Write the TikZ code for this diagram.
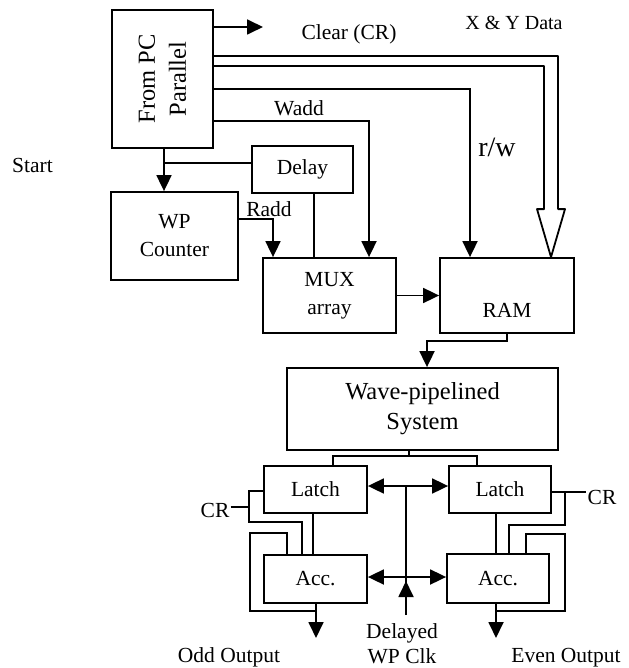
\documentclass[tikz,border=0pt]{standalone}
\usepackage{fontspec}
\setmainfont{Liberation Serif}
\usetikzlibrary{arrows.meta,calc}
\begin{document}
\begin{tikzpicture}[x=1pt,y=-1pt,
  box/.style={draw,line width=1.8pt,inner sep=0pt},
  wire/.style={line width=1.8pt},
  arr/.style={-{Triangle[length=16pt,width=15pt]}},
  darr/.style={{Triangle[length=16pt,width=15pt]}-{Triangle[length=16pt,width=15pt]}},
  txt/.style={font=\fontsize{21.5}{28}\selectfont,inner sep=1pt,align=center}]
\useasboundingbox (0,0) rectangle (628,668);
% boxes
\node[box,minimum width=101pt,minimum height=138pt] (pc) at (162.5,79) {};
\node[txt,rotate=90,font=\fontsize{24.5}{31}\selectfont] (pctxt) at (pc.center) {From PC\\Parallel};
\node[box,txt,minimum width=101pt,minimum height=47pt] (delay) at (302.5,169.5) {Delay};
\node[box,txt,minimum width=127pt,minimum height=88pt] (wp) at (174.5,236) {WP\\Counter};
\node[box,txt,minimum width=133pt,minimum height=75pt] (mux) at (329.5,295.5) {MUX\\array};
\node[box,minimum width=134pt,minimum height=75pt] (ram) at (507,295.5) {};
\node[txt] (ramtxt) at ($(ram.center)+(0,14.5)$) {RAM};
\node[box,txt,font=\fontsize{24.5}{30}\selectfont,minimum width=271pt,minimum height=82pt] (wave) at (422.5,409) {Wave-pipelined\\System};
\node[box,txt,minimum width=103pt,minimum height=47pt] (latchL) at (315.5,489.5) {Latch};
\node[box,txt,minimum width=102pt,minimum height=47pt] (latchR) at (500,489.5) {Latch};
\node[box,txt,minimum width=103pt,minimum height=48pt] (accL) at (315.5,579) {Acc.};
\node[box,txt,minimum width=102pt,minimum height=49pt] (accR) at (498,578.5) {Acc.};
% labels
\node[txt] (clear) at (349,34) {Clear (CR)};
\node[txt,font=\fontsize{20}{24}\selectfont] (xy) at (514,23) {X \& Y Data};
\node[txt] (wadd) at (299,108) {Wadd};
\node[txt,font=\fontsize{28}{32}\selectfont] (rwl) at (497,147) {r/w};
\node[txt] (radd) at (269,209) {Radd};
\node[txt] (start) at (32.5,165) {Start};
\node[txt] (crl) at (215,510) {CR};
\node[txt] (crr) at (602,497) {CR};
\node[txt] (oddl) at (229,657) {Odd Output};
\node[txt] (evenl) at (566,658) {Even Output};
\node[txt,font=\fontsize{21.5}{25}\selectfont] (clkl) at (402,644) {Delayed\\WP Clk};
% coordinates
\coordinate (clr) at (263,27);
\coordinate (bo) at (558,56);
\coordinate (bi) at (544,66);
\coordinate (btip) at ($(ram.north)+(44,0)$);
\coordinate (rw) at (470,89);
\coordinate (wa) at (369,121);
\coordinate (xs) at (164,163);
\coordinate (ra) at (273,219);
\coordinate (xd) at (314,0);
\coordinate (rwv) at (427,341);
\coordinate (wj) at (409,456);
\coordinate (wl) at (333,456);
\coordinate (wr) at (477,456);
\coordinate (ck) at (406,615);
\coordinate (ckl) at (406,486);
\coordinate (cka) at (406,577);
\coordinate (xl) at (313,0);
\coordinate (xr) at (496,0);
\coordinate (cjl) at (249,507);
\coordinate (cl1) at (249,491);
\coordinate (cl2) at (249,522);
\coordinate (cl3) at (302,522);
\coordinate (fl1) at (316,611);
\coordinate (fl2) at (250,611);
\coordinate (fl3) at (250,533);
\coordinate (fl4) at (287,533);
\coordinate (odd) at (316,638);
\coordinate (cr1) at (565,492);
\coordinate (cr2) at (565,525);
\coordinate (cr3) at (509,525);
\coordinate (fr1) at (496,611);
\coordinate (fr2) at (565,611);
\coordinate (fr3) at (565,534);
\coordinate (fr4) at (526,534);
\coordinate (even) at (496,638);
% top connectors
\draw[wire,arr] (pc.east |- clr) -- (clr);
\draw[wire,line join=round] (pc.east |- bo) -- (bo) -- ($(btip)+(7,-48)$) -- ($(btip)+(14,-48)$) -- (btip)
   -- ($(btip)+(-14,-48)$) -- ($(btip)+(-7,-48)$) -- (bi) -- (pc.east |- bi);
\draw[wire,arr] (pc.east |- rw) -- (rw) -- (rw |- ram.north);
\draw[wire,arr] (pc.east |- wa) -- (wa) -- (wa |- mux.north);
\draw[wire,arr] (pc.south -| xs) -- (wp.north -| xs);
\draw[wire] (xs) -- (xs -| delay.west);
\draw[wire,arr] (wp.east |- ra) -- (ra) -- (ra |- mux.north);
\draw[wire] (delay.south -| xd) -- (mux.north -| xd);
\draw[wire,arr] (mux.east) -- (ram.west);
\draw[wire,arr] (ram.south) -- (ram.south |- rwv) -- (rwv) -- (rwv |- wave.north);
% wave to latches
\draw[wire] (wave.south -| wj) -- (wj);
\draw[wire] (wl |- latchL.north) -- (wl) -- (wr) -- (wr |- latchR.north);
% clock
\draw[wire] (ckl) -- (ck);
\draw[wire,arr] (ck) -- ($(cka)+(0,4)$);
\draw[wire,darr] (latchL.east |- ckl) -- (latchR.west |- ckl);
\draw[wire,darr] (accL.east |- cka) -- (accR.west |- cka);
% latch to acc
\draw[wire] (latchL.south -| xl) -- (accL.north -| xl);
\draw[wire] (latchR.south -| xr) -- (accR.north -| xr);
% CR left
\draw[wire] (crl.east |- cjl) -- (cjl);
\draw[wire] (latchL.west |- cl1) -- (cl1) -- (cl2) -- (cl3) -- (cl3 |- accL.north);
% feedback left
\draw[wire] (accL.south -| fl1) -- (fl1) -- (fl2) -- (fl3) -- (fl4) -- (fl4 |- accL.north);
\draw[wire,arr] (accL.south -| odd) -- (odd);
% CR right
\draw[wire] (latchR.east |- cr1) -- (crr.west |- cr1);
\draw[wire] (cr1) -- (cr2) -- (cr3) -- (cr3 |- accR.north);
% feedback right
\draw[wire] (accR.south -| fr1) -- (fr1) -- (fr2) -- (fr3) -- (fr4) -- (fr4 |- accR.north);
\draw[wire,arr] (accR.south -| even) -- (even);
\end{tikzpicture}
\end{document}
